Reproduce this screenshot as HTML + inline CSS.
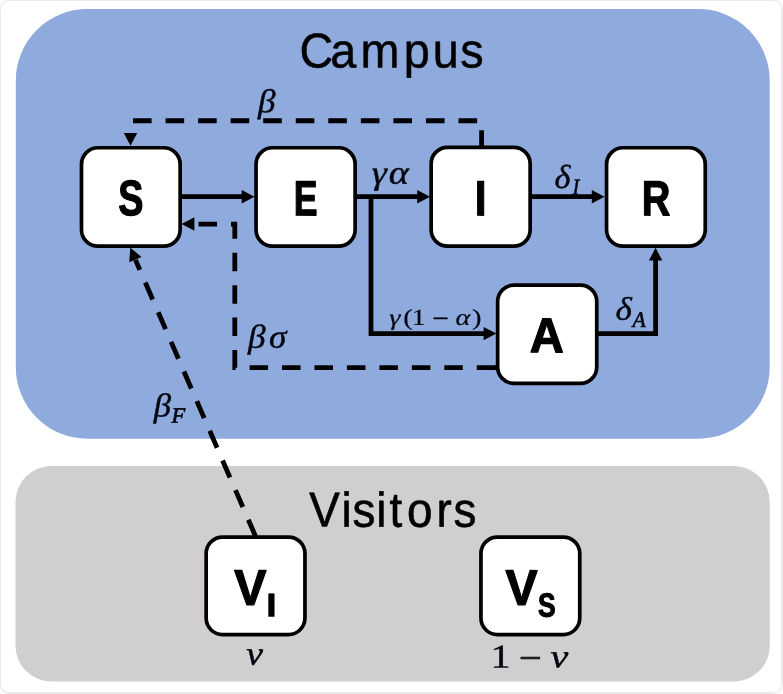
<!DOCTYPE html>
<html lang="en">
<head>
<meta charset="utf-8">
<title>Campus / Visitors compartment model</title>
<style>
  html, body { margin: 0; padding: 0; background: #ffffff; }
  body { width: 783px; height: 694px; overflow: hidden; }
  svg { display: block; will-change: transform; }
  text { fill: #000000; stroke: #000000; }
  .math, .mathr { fill: #03060f; stroke: #03060f; }
  .sans { font-family: "Liberation Sans", sans-serif; }
  .bold { font-family: "Liberation Sans", sans-serif; font-weight: bold; }
  .math { font-family: "Liberation Serif", "DejaVu Serif", serif; font-style: italic; }
  .mathr { font-family: "Liberation Serif", "DejaVu Serif", serif; font-style: normal; }
  .box { fill: #ffffff; stroke: #000000; stroke-width: 3.7; }
  .ln { fill: none; stroke: #000000; stroke-width: 4.8; stroke-linejoin: miter; }
  .dash { fill: none; stroke: #000000; stroke-width: 4.8; stroke-linejoin: miter; }
  .ah { fill: #000000; stroke: none; }
</style>
</head>
<body>
<svg width="783" height="694" viewBox="0 0 783 694">
  <rect x="0.5" y="0.5" width="782" height="693" rx="8" ry="8" fill="#ffffff" stroke="#ebebeb" stroke-width="1"/>
  <rect x="0.5" y="0.5" width="781" height="692" rx="8" ry="8" fill="#ffffff" stroke="#ebebeb" stroke-width="1"/>
  <rect x="15.8" y="9" width="753.9" height="429.7" rx="71.5" ry="71.5" fill="#8faadc"/>
  <rect x="15.5" y="466" width="754.2" height="215.6" rx="36" ry="36" fill="#d0cece"/>
  <path class="dash" stroke-dasharray="18.6 13.95" d="M481.6 148.8 V120.75 H130.5 V130"/>
  <polygon class="ah" points="130.50,145.80 123.80,133.00 137.20,133.00"/>
  <path class="dash" stroke-dasharray="18.5 13.95" d="M495.25 367.7 H234.8 V224.05 H192"/>
  <polygon class="ah" points="181.60,224.05 194.40,217.35 194.40,230.75"/>
  <path class="dash" stroke-width="4.4" stroke-dasharray="18.5 13.83" d="M255.72 536.73 L135.5 259.9"/>
  <polygon class="ah" points="130.30,247.80 141.53,256.89 129.23,262.21"/>
  <path class="ln" d="M181 196.7 H243"/>
  <polygon class="ah" points="254.50,196.70 241.70,203.40 241.70,190.00"/>
  <path class="ln" d="M356 196.7 H418"/>
  <polygon class="ah" points="430.00,196.70 417.20,203.40 417.20,190.00"/>
  <path class="ln" d="M371 196.7 V333.6 H485"/>
  <polygon class="ah" points="496.40,333.60 483.60,340.30 483.60,326.90"/>
  <path class="ln" d="M531 196.7 H593"/>
  <polygon class="ah" points="604.60,196.70 591.80,203.40 591.80,190.00"/>
  <path class="ln" d="M597 333.6 H655.6 V259"/>
  <polygon class="ah" points="655.60,247.80 662.30,260.60 648.90,260.60"/>
  <path class="ln" d="M498 367.7 H494"/>
  <rect class="box" x="81.50" y="147.75" width="98.65" height="98.40" rx="16.5" ry="16.5"/>
  <rect class="box" x="256.05" y="147.75" width="99.10" height="98.40" rx="16.5" ry="16.5"/>
  <rect class="box" x="431.15" y="147.35" width="99.00" height="98.80" rx="16.5" ry="16.5"/>
  <rect class="box" x="606.55" y="147.75" width="98.70" height="98.40" rx="16.5" ry="16.5"/>
  <rect class="box" x="497.65" y="285.05" width="99.10" height="98.40" rx="16.5" ry="16.5"/>
  <rect class="box" x="206.15" y="537.05" width="98.80" height="97.50" rx="16.5" ry="16.5"/>
  <rect class="box" x="480.95" y="537.05" width="98.80" height="97.50" rx="16.5" ry="16.5"/>
  <text id="campus" class="sans" font-size="48" transform="translate(299.45 67.45) matrix(1 0.001 0 1 0 0) scale(0.9750 1.0200)" stroke-width="0.5" stroke-linejoin="round" x="0.00 31.49 62.59 107.03 136.62 164.82">Campus</text>
  <text id="visitors" class="sans" font-size="48" transform="translate(309.23 526.60) matrix(1 0.001 0 1 0 0) scale(0.9550 1.0200)" stroke-width="0.6" stroke-linejoin="round" x="0.00 33.82 45.42 70.21 84.14 102.43 133.32 150.97">Visitors</text>
  <text id="bS" class="bold" font-size="48" transform="translate(118.24 215.23) matrix(1 0.001 0 1 0 0) scale(0.7864 1.0427)" stroke-width="1.2" stroke-linejoin="round">S</text>
  <text id="bE" class="bold" font-size="48" transform="translate(293.81 215.16) matrix(1 0.001 0 1 0 0) scale(0.7433 1.0265)" stroke-width="1.2" stroke-linejoin="round">E</text>
  <text id="bI" class="bold" font-size="48" transform="translate(474.75 215.16) matrix(1 0.001 0 1 0 0) scale(0.8846 1.0265)" stroke-width="1.2" stroke-linejoin="round">I</text>
  <text id="bR" class="bold" font-size="48" transform="translate(641.81 215.16) matrix(1 0.001 0 1 0 0) scale(0.8266 1.0265)" stroke-width="1.2" stroke-linejoin="round">R</text>
  <text id="bA" class="bold" font-size="48" transform="translate(529.83 352.16) matrix(1 0.001 0 1 0 0) scale(0.9814 1.0206)" stroke-width="1.2" stroke-linejoin="round">A</text>
  <text id="bV1" class="bold" font-size="48" transform="translate(234.25 604.65) matrix(1 0.001 0 1 0 0) scale(1.0050 1.0382)" stroke-width="1.2" stroke-linejoin="round">V</text>
  <text id="bV1s" class="bold" font-size="32" transform="translate(266.29 616.41) matrix(1 0.001 0 1 0 0) scale(1.1643 1.0367)" stroke-width="0.6" stroke-linejoin="round">I</text>
  <text id="bV2" class="bold" font-size="48" transform="translate(505.54 604.65) matrix(1 0.001 0 1 0 0) scale(1.0023 1.0382)" stroke-width="1.2" stroke-linejoin="round">V</text>
  <text id="bV2s" class="bold" font-size="32" transform="translate(537.99 616.46) matrix(1 0.001 0 1 0 0) scale(0.8263 1.0348)" stroke-width="1.1" stroke-linejoin="round">S</text>
  <text id="mBeta" class="math" font-size="35" transform="translate(258.12 112.29) matrix(1 0.001 0 1 0 0) scale(1.0031 0.9426)" stroke-width="0.45" stroke-linejoin="round">β</text>
  <text id="mGA" class="math" font-size="35" transform="translate(371.77 183.70) matrix(1 0.001 0 1 0 0) scale(1.0977 0.9565)" stroke-width="0.45" stroke-linejoin="round" x="0.00 15.37">γα</text>
  <text id="mBS" class="math" font-size="35" transform="translate(248.00 347.75) matrix(1 0.001 0 1 0 0) scale(1.0085 0.9493)" stroke-width="0.45" stroke-linejoin="round" x="0.00 20.82">βσ</text>
  <text id="mDI" class="math" font-size="35" transform="translate(554.55 187.88) matrix(1 0.001 0 1 0 0) scale(0.9800 0.9507)" stroke-width="0.45" stroke-linejoin="round">δ</text>
  <text id="mDIs" class="math" font-size="23" transform="translate(572.43 194.32) matrix(1 0.001 0 1 0 0) scale(0.8893 0.9754)" stroke-width="0.5" stroke-linejoin="round">I</text>
  <text id="mDA" class="math" font-size="35" transform="translate(615.43 319.73) matrix(1 0.001 0 1 0 0) scale(1.0049 0.9345)" stroke-width="0.45" stroke-linejoin="round">δ</text>
  <text id="mDAs" class="math" font-size="23" transform="translate(632.50 326.92) matrix(1 0.001 0 1 0 0) scale(0.9407 0.9658)" stroke-width="0.6" stroke-linejoin="round">A</text>
  <text id="mBF" class="math" font-size="35" transform="translate(153.84 416.53) matrix(1 0.001 0 1 0 0) scale(0.9902 0.9443)" stroke-width="0.45" stroke-linejoin="round">β</text>
  <text id="mBFs" class="math" font-size="23" transform="translate(171.47 422.77) matrix(1 0.001 0 1 0 0) scale(0.9729 0.9596)" stroke-width="0.75" stroke-linejoin="round">F</text>
  <text id="mG1A" class="math" font-size="26" transform="translate(389.30 324.95) matrix(1 0.001 0 1 0 0) scale(1.0970 0.8900)" stroke-width="0.2" stroke-linejoin="round" x="0.00 12.81 20.26 32.86 39.47 52.87 60.28 75.48" y="0.00 0.00 0.00 0.00 1.12 0.00 0.00 0.00">γ<tspan class="mathr">(1 </tspan><tspan class="mathr" stroke-width="0.8">−</tspan><tspan class="mathr"> </tspan>α<tspan class="mathr">)</tspan></text>
  <text id="mNu1" class="math" font-size="35" transform="translate(246.20 664.64) matrix(1 0.001 0 1 0 0) scale(1.0766 0.9696)" stroke-width="0.45" stroke-linejoin="round">ν</text>
  <text id="mOneNu" class="math" font-size="33" transform="translate(490.58 667.45) matrix(1 0.001 0 1 0 0) scale(1.2154 1.0045)" stroke-width="0.4" stroke-linejoin="round" x="0.00 14.70 23.41 39.39 49.37" y="0.00 0.00 1.49 0.00 0.00"><tspan class="mathr">1 </tspan><tspan class="mathr" stroke-width="0.8">−</tspan><tspan class="mathr"> </tspan>ν</text>
</svg>
</body>
</html>
